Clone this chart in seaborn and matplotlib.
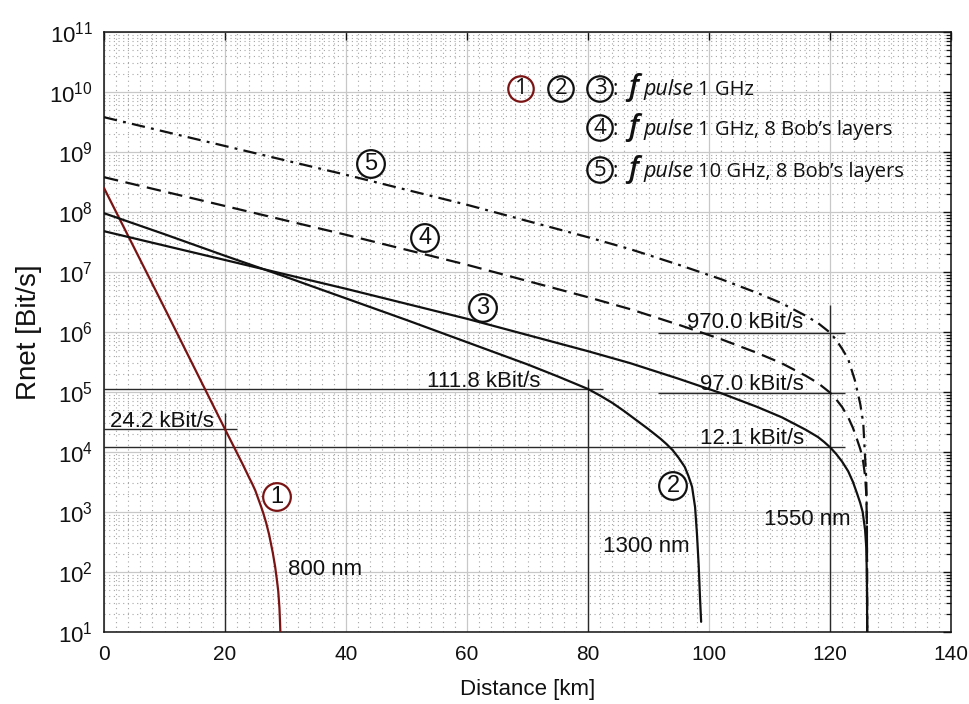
import numpy as np
import pandas as pd
import matplotlib
matplotlib.use("Agg")
import matplotlib.pyplot as plt
import seaborn as sns
from matplotlib.ticker import FixedLocator, LogLocator, MultipleLocator, LogFormatterMathtext, NullFormatter

# ---------------- data (rates as log10 Bit/s) ----------------
c1_km = [0, 5, 10, 15, 20, 21, 22, 23, 24, 24.5, 25, 25.5, 26, 26.3, 26.8, 27.3, 27.9, 28.3, 28.6, 28.8, 29.0, 29.1, 29.15]
c1_log = [8.40, 7.40, 6.40, 5.39, 4.38, 4.18, 3.98, 3.78, 3.57, 3.47, 3.36, 3.22, 3.08, 2.99, 2.82, 2.62, 2.32, 2.08, 1.85, 1.68, 1.40, 1.15, 1.00]

c2_km = [0, 10, 20, 30, 40, 50, 60, 70, 75, 80, 82, 84, 86, 88, 90, 92, 93, 94, 95, 96, 96.6, 97.2, 97.7, 98.0, 98.3, 98.5, 98.7]
c2_log = [7.98, 7.63, 7.27, 6.92, 6.56, 6.20, 5.83, 5.46, 5.26, 5.05, 4.94, 4.82, 4.68, 4.53, 4.38, 4.22, 4.13, 4.03, 3.90, 3.75, 3.60, 3.42, 3.08, 2.65, 2.10, 1.60, 1.17]

c3_km = [0, 10, 20, 30, 40, 50, 60, 70, 80, 87, 95, 102, 108, 112, 116, 118, 119, 120, 121, 122, 123, 123.8, 124.5, 125.0, 125.4, 125.8, 126.0, 126.1, 126.15]
c3_log = [7.68, 7.44, 7.20, 6.96, 6.72, 6.47, 6.22, 5.95, 5.68, 5.48, 5.22, 4.98, 4.75, 4.58, 4.37, 4.25, 4.17, 4.08, 3.97, 3.84, 3.68, 3.50, 3.30, 3.15, 3.00, 2.70, 2.40, 1.90, 1.00]

c4_km = [0, 10, 20, 30, 40, 50, 60, 70, 80, 87, 95, 102, 108, 112, 116, 118, 119, 120, 121, 122, 123, 123.8, 124.5, 125.0, 125.4, 125.8, 126.0, 126.1, 126.15]
c4_log = [8.58, 8.34, 8.10, 7.86, 7.62, 7.37, 7.12, 6.85, 6.58, 6.38, 6.12, 5.88, 5.65, 5.48, 5.27, 5.15, 5.07, 4.99, 4.88, 4.75, 4.58, 4.40, 4.20, 4.05, 3.90, 3.60, 3.30, 2.80, 1.00]

c5_km = [0, 10, 20, 30, 40, 50, 60, 70, 80, 87, 95, 102, 108, 112, 116, 118, 119, 120, 121, 122, 123, 124.1, 125.0, 125.5, 126.0, 126.1, 126.15]
c5_log = [9.58, 9.34, 9.10, 8.86, 8.62, 8.37, 8.12, 7.85, 7.58, 7.38, 7.12, 6.88, 6.65, 6.48, 6.27, 6.15, 6.07, 5.99, 5.87, 5.72, 5.55, 5.20, 4.80, 4.48, 3.53, 2.80, 1.00]

curve_names = ["1", "2", "3", "4", "5"]

# reference markers (annotated rates)
ref_rate = [24.2e3, 111.8e3, 12.1e3, 97.0e3, 970.0e3]
ref_label = ["24.2 kBit/s", "111.8 kBit/s", "12.1 kBit/s", "97.0 kBit/s", "970.0 kBit/s"]
vline_km = [20, 80, 120]

x_ticks = [0, 20, 40, 60, 80, 100, 120, 140]
y_exponents = [1, 2, 3, 4, 5, 6, 7, 8, 9, 10, 11]

# ---------------- build table ----------------
rows = []
for name, km, lg in zip(curve_names, [c1_km, c2_km, c3_km, c4_km, c5_km],
                        [c1_log, c2_log, c3_log, c4_log, c5_log]):
    for k, l in zip(km, lg):
        rows.append({"curve": name, "km": k, "rate": 10.0 ** l})
df = pd.DataFrame(rows)

# ---------------- style ----------------
sns.set_theme(style="white")
plt.rcParams["font.family"] = ["Liberation Sans", "DejaVu Sans"]
plt.rcParams["mathtext.fontset"] = "custom"
plt.rcParams["mathtext.rm"] = "Liberation Sans"
plt.rcParams["mathtext.it"] = "Liberation Sans:italic"
plt.rcParams["mathtext.bf"] = "Liberation Sans:bold"
plt.rcParams["mathtext.default"] = "rm"

W, H = 969, 704
L, R, T, B = 104, 951, 32, 632
fig = plt.figure(figsize=(W / 100, H / 100), dpi=100)
fig.patch.set_facecolor("white")
ax = fig.add_axes([L / W, 1 - B / H, (R - L) / W, (B - T) / H])
ax.set_facecolor("white")


def px(xp, yp):
    return ((xp - L) / (R - L), (B - yp) / (B - T))


palette = {"1": "#7a1414", "2": "#111111", "3": "#111111", "4": "#111111", "5": "#111111"}
dashes = {"1": "", "2": "", "3": "", "4": (6.5, 3.4), "5": (6, 2.8, 1.3, 2.8)}

# ---------------- reference lines (behind curves) ----------------
lc = "#2a2a2a"
hl_extent = [(0, 22.0), (0, 82.5), (0, 122.5), (91.6, 122.5), (91.6, 122.5)]
for r, (x0, x1) in zip(ref_rate, hl_extent):
    ax.hlines(r, x0, x1, color=lc, lw=1.0, zorder=2)
vl_top = [10 ** 4.65, 10 ** 5.22, 10 ** 6.45]
for xk, top in zip(vline_km, vl_top):
    ax.vlines(xk, 10, top, color=lc, lw=1.0, zorder=2)

sns.lineplot(data=df, x="km", y="rate", hue="curve", style="curve",
             palette=palette, dashes=dashes, estimator=None, sort=False,
             linewidth=1.6, legend=False, ax=ax, zorder=3)

ax.set_yscale("log")
ax.set_xlim(0, 140)
ax.set_ylim(10 ** y_exponents[0], 10 ** y_exponents[-1])

# ticks
ax.xaxis.set_major_locator(FixedLocator(x_ticks))
ax.xaxis.set_minor_locator(MultipleLocator(2))
ax.yaxis.set_major_locator(FixedLocator([10.0 ** e for e in y_exponents]))
ax.yaxis.set_minor_locator(LogLocator(base=10, subs=np.arange(2, 10), numticks=30))
ax.yaxis.set_major_formatter(LogFormatterMathtext())
ax.yaxis.set_minor_formatter(NullFormatter())
ax.tick_params(which="both", direction="in", top=True, right=True, colors="#111111")
ax.tick_params(axis="x", which="major", length=6, width=1.0, labelsize=15, pad=9)
ax.tick_params(axis="y", which="major", length=6, width=1.0, labelsize=16, pad=8)
ax.tick_params(axis="x", which="minor", length=0)
ax.tick_params(axis="y", which="minor", length=3.5, width=0.9)

# grid
ax.grid(which="major", color="#c8c8c8", lw=0.9, ls="-", zorder=0)
ax.grid(which="minor", color="#a6a6a6", lw=0.8, ls=(0, (1, 3.2)), zorder=0)
ax.set_axisbelow(True)
for s in ax.spines.values():
    s.set_color("#111111")
    s.set_linewidth(1.1)

ax.set_xlabel("Distance [km]", fontsize=16, color="#111111")
ax.set_ylabel("Rnet [Bit/s]", fontsize=20, color="#111111")
ax.xaxis.set_label_coords(0.5, px(0, 679)[1])
ax.yaxis.set_label_coords(px(42, 0)[0], 0.5)

# ---------------- annotations ----------------
ref_pos = [(110, 427), (427, 387), (700, 444), (700, 390), (687, 328)]
for lab, (xp, yp) in zip(ref_label, ref_pos):
    ax.text(*px(xp, yp), lab, transform=ax.transAxes, ha="left", va="baseline",
            fontsize=16, color="#111111", zorder=4)

wl_label = ["800 nm", "1300 nm", "1550 nm"]
wl_pos = [(288, 575), (603, 552), (764, 525)]
for lab, (xp, yp) in zip(wl_label, wl_pos):
    ax.text(*px(xp, yp), lab, transform=ax.transAxes, ha="left", va="baseline",
            fontsize=16, color="#111111", zorder=4)

circ_pos = [(277, 497), (673, 486), (483, 308), (425, 238), (371, 164)]
for name, (xp, yp) in zip(curve_names, circ_pos):
    ax.text(*px(xp, yp), name, transform=ax.transAxes, ha="center", va="center",
            fontsize=17, color="#111111", zorder=5,
            bbox=dict(boxstyle="circle,pad=0.12", fc="white", ec=palette[name], lw=1.6))

# legend-like text block
lf = ["Open Sans", "DejaVu Sans"]
leg_circ = [("1", 521, 89), ("2", 561, 89), ("3", 600, 89), ("4", 600, 128), ("5", 600, 170)]
for name, xp, yp in leg_circ:
    ax.text(*px(xp, yp), name, transform=ax.transAxes, ha="center", va="center",
            fontsize=16, family=lf, color="#111111", zorder=5,
            bbox=dict(boxstyle="circle,pad=0.1", fc="none", ec=palette[name], lw=1.6))

leg_rest = ["1 GHz", "1 GHz, 8 Bob\u2019s layers", "10 GHz, 8 Bob\u2019s layers"]
leg_base = [95, 135, 177]
for txt, yb in zip(leg_rest, leg_base):
    ax.text(*px(613, yb), ":", transform=ax.transAxes, ha="left", va="baseline",
            fontsize=15, family=lf, color="#111111", zorder=5)
    ax.text(*px(628, yb), "f", transform=ax.transAxes, ha="left", va="baseline",
            fontsize=21, family=lf, style="italic", weight="semibold", color="#111111", zorder=5)
    ax.text(*px(643, yb), "pulse", transform=ax.transAxes, ha="left", va="baseline",
            fontsize=15.5, family=lf, style="italic", color="#111111", zorder=5)
    ax.text(*px(698, yb), txt, transform=ax.transAxes, ha="left", va="baseline",
            fontsize=14.5, family=lf, color="#111111", zorder=5)

fig.savefig("out.png", dpi=100, facecolor="white")
